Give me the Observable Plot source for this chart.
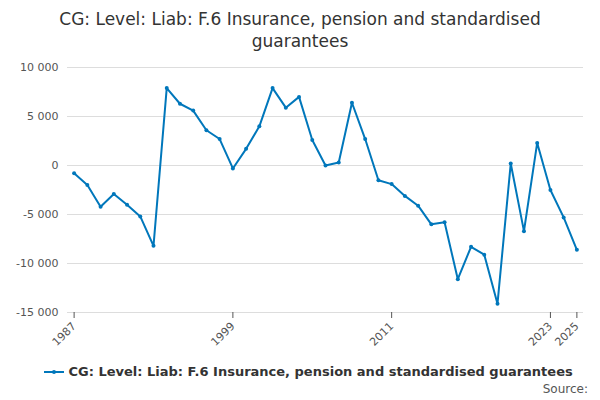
<!DOCTYPE html>
<html><head><meta charset="utf-8">
<script src="https://cdn.jsdelivr.net/npm/d3@7"></script>
<script src="https://cdn.jsdelivr.net/npm/@observablehq/plot@0.6"></script>
<style>
body{margin:0;width:600px;height:400px;font-family:"DejaVu Sans",sans-serif;background:#fff;position:relative;overflow:hidden}
#title{text-align:center;font-size:17px;color:#333;margin-top:8px;line-height:22px;padding:0 40px}
#legend{position:absolute;top:364px;left:44px;font-size:13px;color:#333;font-weight:bold;display:flex;align-items:center}
#src{position:absolute;top:382px;right:12px;font-size:12px;color:#555}
</style></head><body>
<div id="title">CG: Level: Liab: F.6 Insurance, pension and standardised guarantees</div>
<div id="chart"></div>
<div id="legend"><svg width="20" height="10"><line x1="0" y1="5" x2="20" y2="5" stroke="#0077bb" stroke-width="2"/><circle cx="10" cy="5" r="2" fill="#0077bb"/></svg>&nbsp;CG: Level: Liab: F.6 Insurance, pension and standardised guarantees</div>
<div id="src">Source:</div>
<script>
const years = d3.range(1987, 2026);
const values = [-800,-2000,-4200,-2900,-4000,-5200,-8200,7900,6300,5600,3600,2700,-300,1700,4000,7900,5900,7000,2600,0,300,6400,2700,-1500,-1900,-3100,-4100,-6000,-5800,-11600,-8300,-9100,-14100,200,-6700,2300,-2500,-5300,-8600];
const xTicks = [1987,1999,2011,2023,2025];
const yTicks = [-15000,-10000,-5000,0,5000,10000];
const data = years.map((y,i)=>({year:y,value:values[i]}));
const fmt = v => d3.format(",")(v).replace(/,/g," ").replace("−","-");
const chart = Plot.plot({
  width:600,height:300,marginTop:15,marginLeft:67,marginRight:17,marginBottom:40,
  style:{fontFamily:"DejaVu Sans",fontSize:"11px",color:"#555"},
  x:{domain:[1986.5,2025.5],label:null},
  y:{domain:[-15000,10000],label:null},
  marks:[
    Plot.gridY(yTicks,{stroke:"#ddd",strokeOpacity:1}),
    Plot.axisY({ticks:yTicks,tickFormat:fmt,tickSize:0,label:null}),
    Plot.axisX({ticks:xTicks,tickFormat:d=>String(d),tickRotate:-45,label:null}),
    Plot.line(data,{x:"year",y:"value",stroke:"#0077bb",strokeWidth:2}),
    Plot.dot(data,{x:"year",y:"value",fill:"#0077bb",r:2})
  ]
});
document.getElementById("chart").appendChild(chart);
</script>
</body></html>
